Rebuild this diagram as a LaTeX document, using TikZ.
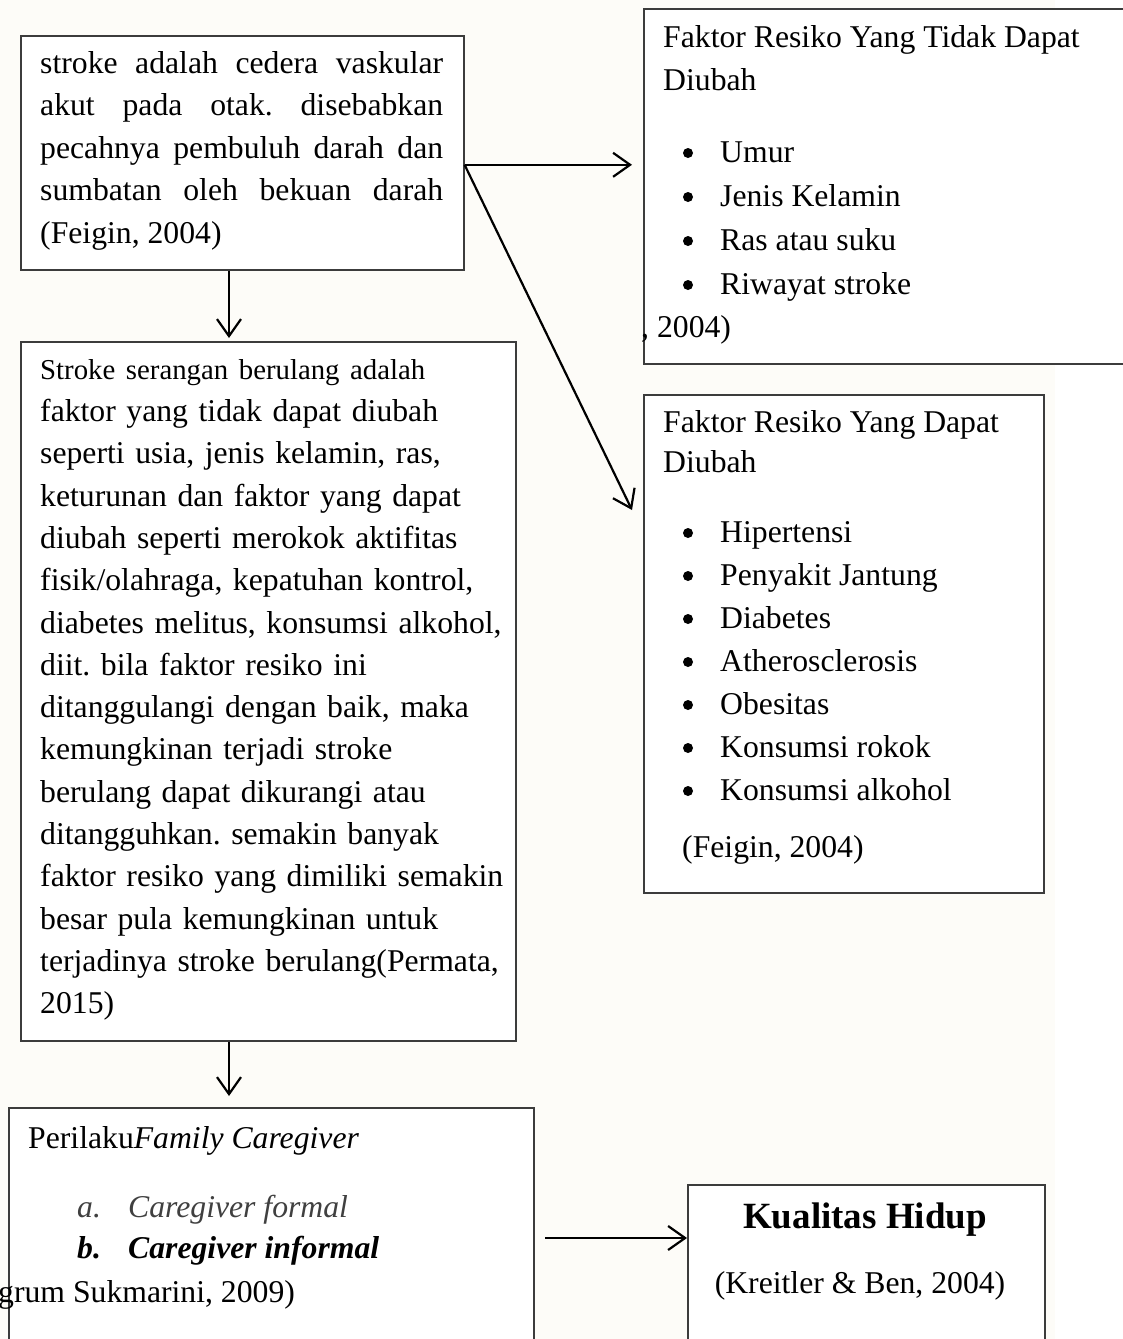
\documentclass[tikz,border=0pt]{standalone}
\usepackage{fontspec}
\setmainfont{Liberation Serif}
\usetikzlibrary{arrows.meta}
\definecolor{paper}{RGB}{253,252,248}
\definecolor{edge}{RGB}{60,60,60}
\frenchspacing
\tikzset{
  box/.style={draw=edge, line width=1.6pt, fill=white, rectangle, inner sep=0pt, anchor=north west},
  txt/.style={inner sep=0pt, anchor=base west, font=\fontsize{31.7}{42.5}\selectfont},
  dot/.style={circle, fill=black, inner sep=0pt, minimum size=10pt},
  arr/.style={line width=2.2pt, -{Straight Barb[length=17pt,width=24pt,line width=2.2pt]}},
}
\newcommand{\firstline}{\rule{0pt}{30pt}}
\begin{document}
\begin{tikzpicture}[x=1pt, y=-1pt]
	\useasboundingbox (0,0) rectangle (1123,1339);
	\fill[paper] (0,0) rectangle (1055,1339);
	% boxes
	\node[box, minimum width=443pt, minimum height=234pt] (A) at (20,35) {};
	\node[box, minimum width=495pt, minimum height=699pt] (B) at (20,341) {};
	\node[box, minimum width=525pt, minimum height=260pt] (C) at (8,1107) {};
	\node[box, minimum width=500pt, minimum height=355pt] (D) at (643,8) {};
	\node[box, minimum width=400pt, minimum height=498pt] (E) at (643,394) {};
	\node[box, minimum width=357pt, minimum height=170pt] (F) at (687,1184) {};
	% texts
	\node[txt, anchor=north west, text width=403pt, align=justify] (At) at (40,43) {\tolerance=10000\hyphenpenalty=10000
		\firstline stroke adalah cedera vaskular\linebreak akut pada otak. disebabkan\linebreak
		pecahnya pembuluh darah dan\linebreak sumbatan oleh bekuan darah\linebreak (Feigin, 2004)};
	\node[txt, anchor=north west, text width=470pt, align=left, font=\fontsize{31.7}{42.3}\selectfont] (Bt) at (40,349) {%
		\firstline{\fontsize{28.8}{41}\selectfont Stroke serangan berulang adalah}\\
		faktor yang tidak dapat diubah\\
		seperti usia, jenis kelamin, ras,\\
		keturunan dan faktor yang dapat\\
		diubah seperti merokok aktifitas\\
		fisik/olahraga, kepatuhan kontrol,\\
		diabetes melitus, konsumsi alkohol,\\
		diit. bila faktor resiko ini\\
		ditanggulangi dengan baik, maka\\
		kemungkinan terjadi stroke\\
		berulang dapat dikurangi atau\\
		ditangguhkan. semakin banyak\\
		faktor resiko yang dimiliki semakin\\
		besar pula kemungkinan untuk\\
		terjadinya stroke berulang(Permata,\\
		2015)};
	\node[txt] (Dt1) at (663,47) {Faktor Resiko Yang Tidak Dapat};
	\node[txt] (Dt2) at (663,90) {Diubah};
	\foreach \entry [count = \i] in {Umur, Jenis Kelamin, Ras atau suku, Riwayat stroke}{
		\node[dot] (Db\i) at (688,{153+44*(\i-1)}) {};
		\node[txt] (Di\i) at (720,{162+44*(\i-1)}) {\entry};
	}
	\node[txt] (Ds) at (641,337) {, 2004)};
	\node[txt] (Et1) at (663,432) {Faktor Resiko Yang Dapat};
	\node[txt] (Et2) at (663,472) {Diubah};
	\foreach \entry [count = \i] in {Hipertensi, Penyakit Jantung, Diabetes, Atherosclerosis, Obesitas, Konsumsi rokok, Konsumsi alkohol}{
		\node[dot] (Eb\i) at (688,{533+43*(\i-1)}) {};
		\node[txt] (Ei\i) at (720,{542+43*(\i-1)}) {\entry};
	}
	\node[txt] (Es) at (682,857) {(Feigin, 2004)};
	\node[txt] (Ct) at (28,1148) {Perilaku\textit{Family Caregiver}};
	\node[txt, text=black!75] (Ca) at (77,1217) {\textit{a.}};
	\node[txt, text=black!75] (Ca2) at (128,1217) {\textit{Caregiver formal}};
	\node[txt] (Cb) at (77,1258) {\textbf{\textit{b.}}};
	\node[txt] (Cb2) at (128,1258) {\textbf{\textit{Caregiver informal}}};
	\node[txt] (Cs) at (-2,1302) {grum Sukmarini, 2009)};
	\node[txt, anchor=base, font=\fontsize{37}{44}\selectfont\bfseries] (Ft) at (865,1228) {Kualitas Hidup};
	\node[txt, anchor=base] (Fs) at (860,1293) {(Kreitler \& Ben, 2004)};
	% arrows
	\coordinate (col) at (229,0);
	\coordinate (fork) at ([yshift=-12pt]A.east);
	\coordinate (cf) at (545,1238);
	\draw[arr, shorten >=3pt] (A.south -| col) -- (B.north -| col);
	\draw[arr, shorten >=11pt] (B.south -| col) -- (C.north -| col);
	\draw[arr, shorten >=11pt] (fork) -- (fork -| D.west);
	\draw[arr] (fork) -- ([shift={(-11,116)}]E.north west);
	\draw[arr] (cf) -- (cf -| F.west);
\end{tikzpicture}
\end{document}
